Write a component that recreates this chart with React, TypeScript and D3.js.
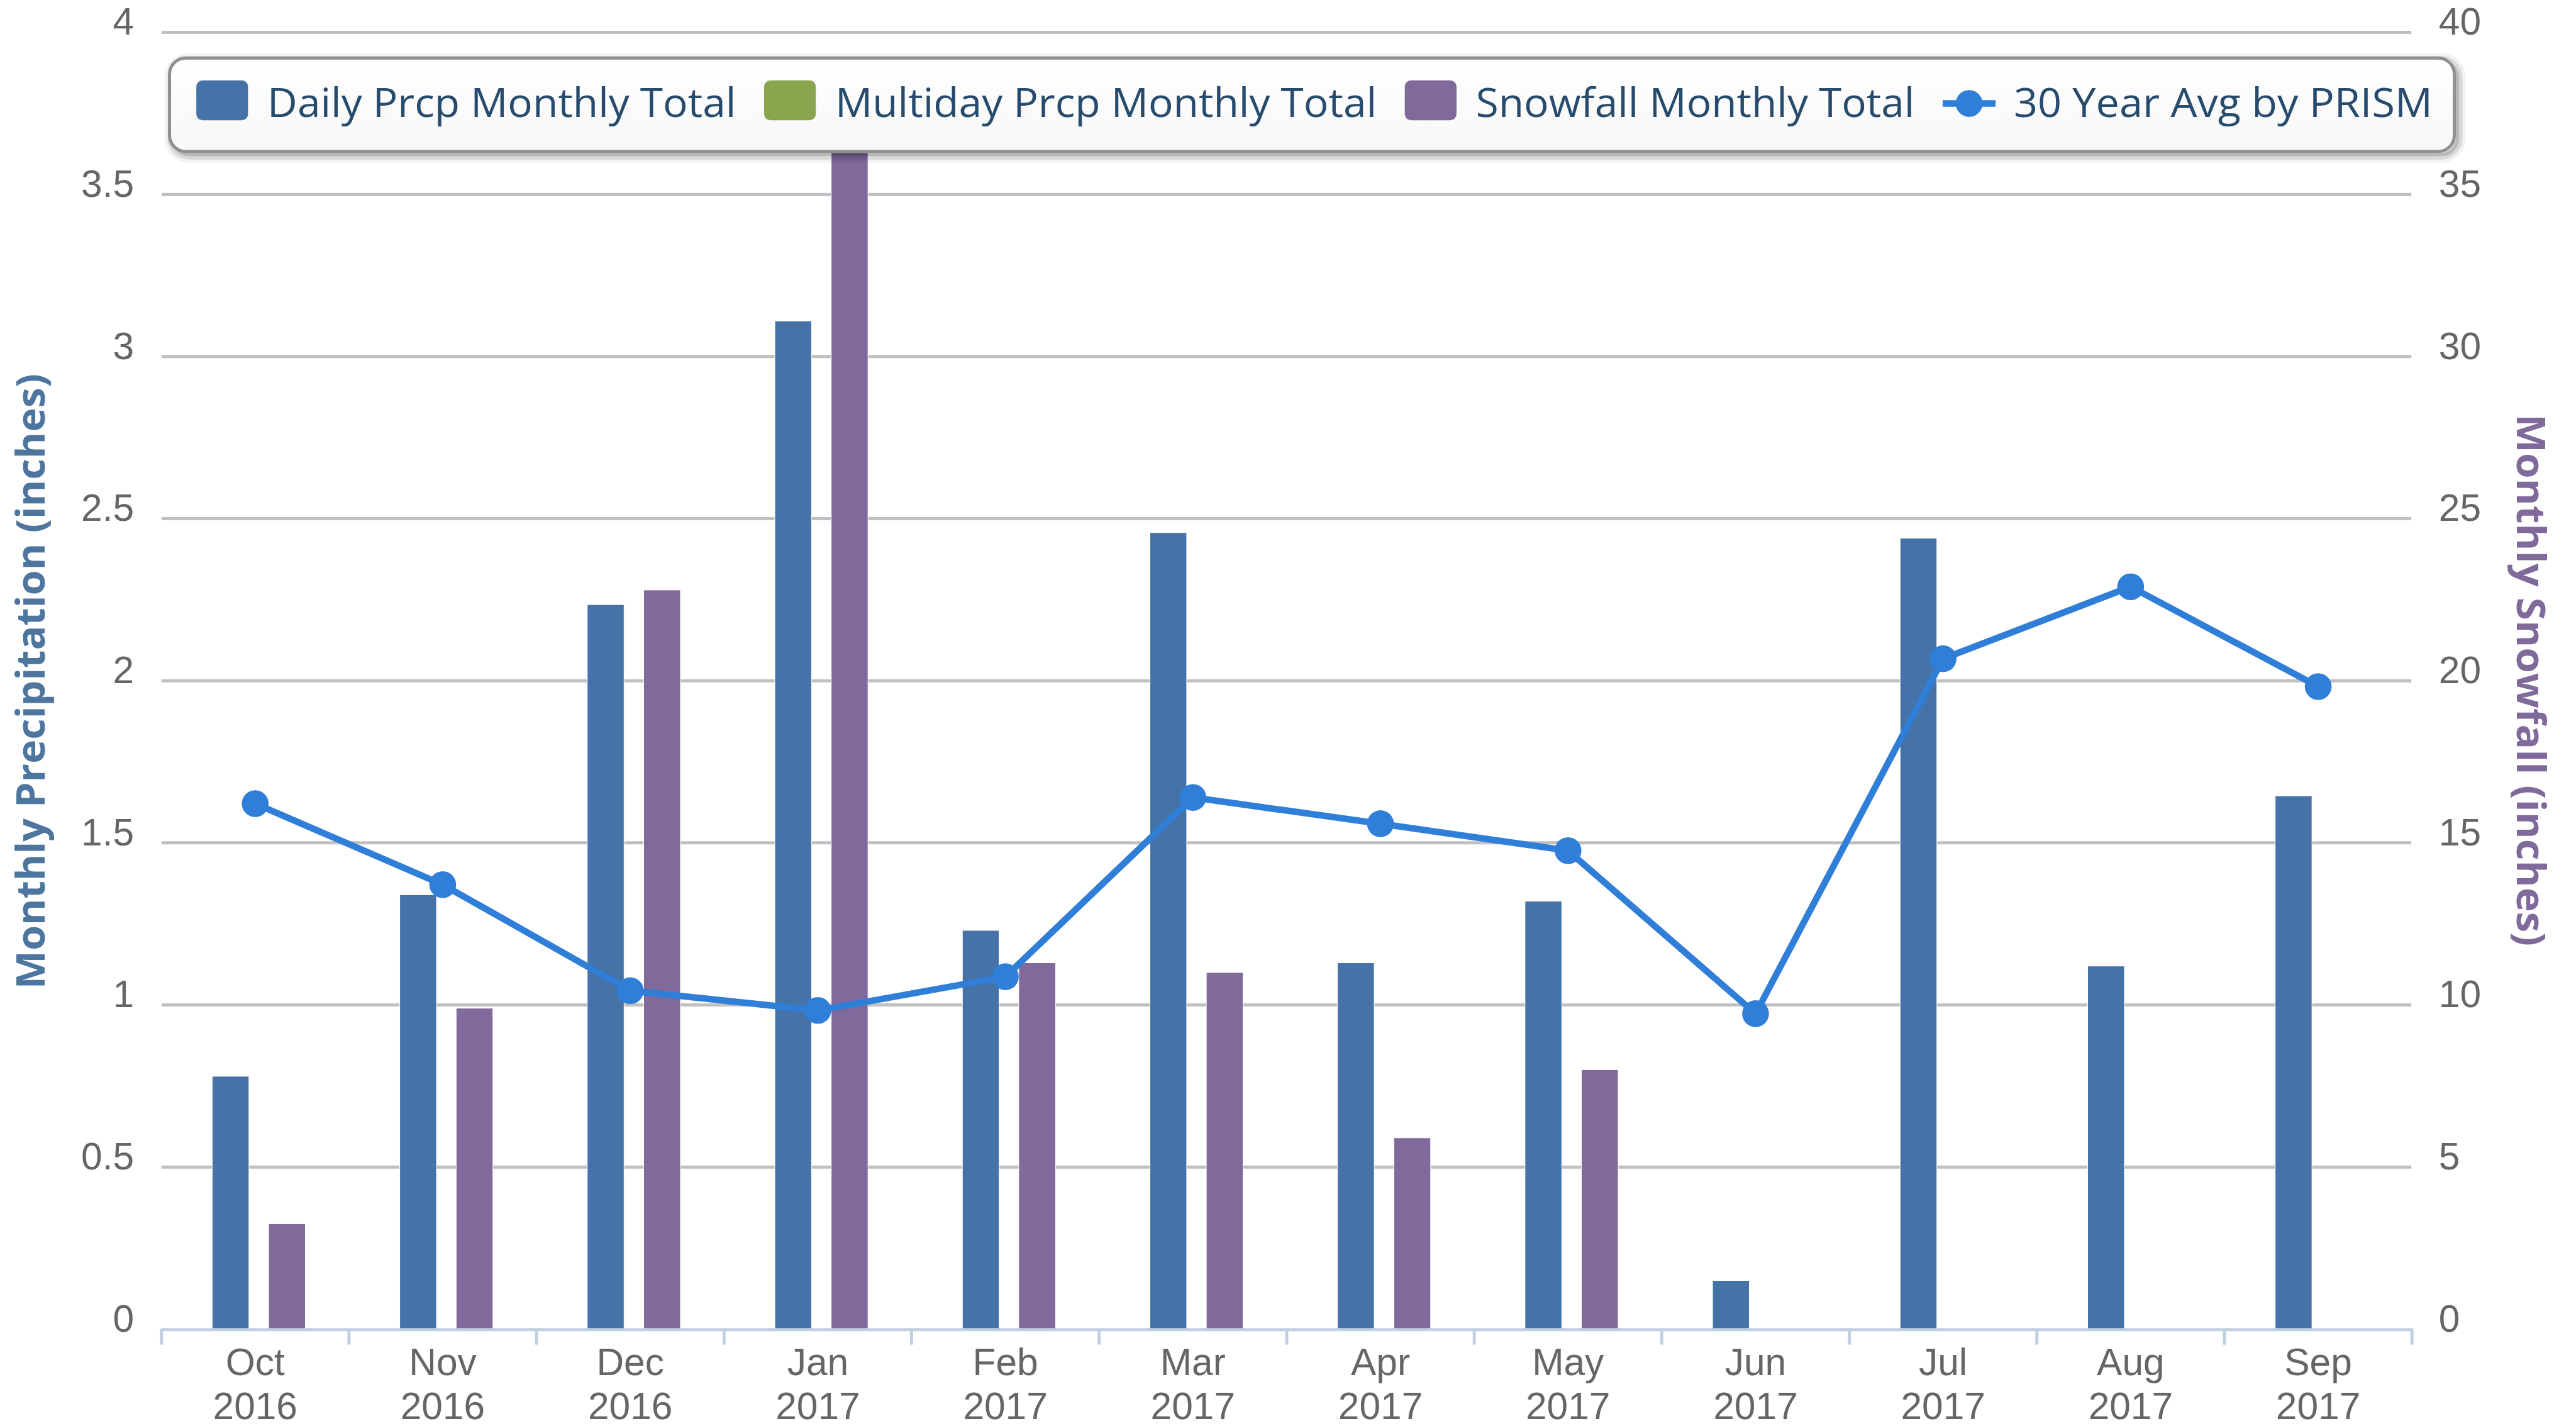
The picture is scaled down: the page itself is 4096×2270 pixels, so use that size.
import React from "react";
import * as d3 from "d3";

const months = ["Oct", "Nov", "Dec", "Jan", "Feb", "Mar", "Apr", "May", "Jun", "Jul", "Aug", "Sep"];
const years = ["2016", "2016", "2016", "2017", "2017", "2017", "2017", "2017", "2017", "2017", "2017", "2017"];

// inches of precipitation (left axis)
const dailyPrcp = [0.78, 1.34, 2.235, 3.11, 1.23, 2.457, 1.13, 1.32, 0.15, 2.44, 1.12, 1.645];
const multidayPrcp: (number | null)[] = [null, null, null, null, null, null, null, null, null, null, null, null];
// inches of snow (right axis)
const snowfall = [3.25, 9.9, 22.8, 37, 11.3, 11.0, 5.9, 8.0, 0, 0, 0, 0];
// 30 year PRISM normal (left axis)
const prismAvg = [1.621, 1.371, 1.044, 0.983, 1.087, 1.64, 1.559, 1.476, 0.973, 2.068, 2.29, 1.982];

const leftTicks = [0, 0.5, 1, 1.5, 2, 2.5, 3, 3.5, 4];
const rightTicks = [0, 5, 10, 15, 20, 25, 30, 35, 40];

const legendItems = [
  { name: "Daily Prcp Monthly Total", color: "#4572A7", kind: "bar", textW: 752 },
  { name: "Multiday Prcp Monthly Total", color: "#89A54E", kind: "bar", textW: 869 },
  { name: "Snowfall Monthly Total", color: "#80699B", kind: "bar", textW: 704 },
  { name: "30 Year Avg by PRISM", color: "#2F7ED8", kind: "line", textW: 672 },
];

const FONT = "'Open Sans', 'DejaVu Sans', sans-serif";
const TICK_FONT = "'Liberation Sans', Arial, sans-serif";

const App = () => {
  const left = 259;
  const right = 3870;
  const top = 52;
  const bottom = 2132;

  const x = d3.scaleBand<string>().domain(months).range([left, right]).padding(0);
  const yLeft = d3.scaleLinear().domain([0, 4]).range([bottom, top]);
  const yRight = d3.scaleLinear().domain([0, 40]).range([bottom, top]);

  const barW = 59;
  const cx = (i: number) => (x(months[i]) as number) + x.bandwidth() / 2;
  const offsets = { daily: -39.5, multi: 6, snow: 51 };

  const line = d3
    .line<number>()
    .x((_, i) => cx(i))
    .y((d) => yLeft(d));

  // legend layout
  let lx = 315;
  const legendPos = legendItems.map((it) => {
    const p = { sym: lx, text: lx + 114 };
    lx = lx + 114 + it.textW + 45;
    return p;
  });

  return (
    <svg
      width={4096}
      height={2270}
      style={{ position: "absolute", left: 0, top: 0, background: "#fff" }}
      fontFamily={FONT}
    >
      <defs>
        <linearGradient id="legbg" x1="0" y1="0" x2="0" y2="1">
          <stop offset="0" stopColor="#ffffff" />
          <stop offset="1" stopColor="#f7f7f7" />
        </linearGradient>
      </defs>
      <g transform="scale(0.991)">
        <rect x={0} y={0} width={4132} height={2290} fill="#fff" />

        {/* grid */}
        {leftTicks.slice(1).map((t) => (
          <line key={"g" + t} x1={left} x2={right - 1} y1={yLeft(t)} y2={yLeft(t)} stroke="#C0C0C0" strokeWidth={5} />
        ))}

        {/* left tick labels */}
        {leftTicks.map((t) => (
          <text key={"l" + t} x={215} y={yLeft(t) + 4} textAnchor="end" fontSize={61} fill="#666" fontFamily={TICK_FONT}>
            {String(t)}
          </text>
        ))}
        {/* right tick labels */}
        {rightTicks.map((t) => (
          <text key={"r" + t} x={3913} y={yRight(t) + 4} textAnchor="start" fontSize={61} fill="#666" fontFamily={TICK_FONT}>
            {String(t)}
          </text>
        ))}

        {/* bars */}
        {dailyPrcp.map((v, i) => (
          <rect
            key={"d" + i}
            x={cx(i) + offsets.daily - barW / 2}
            y={yLeft(v)}
            width={barW}
            height={bottom - yLeft(v)}
            fill="#4572A7"
            stroke="#fff"
            strokeWidth={1}
          />
        ))}
        {multidayPrcp.map((v, i) =>
          v == null ? null : (
            <rect
              key={"m" + i}
              x={cx(i) + offsets.multi - barW / 2}
              y={yLeft(v)}
              width={barW}
              height={bottom - yLeft(v)}
              fill="#89A54E"
            />
          )
        )}
        {snowfall.map((v, i) =>
          v > 0 ? (
            <rect
              key={"s" + i}
              x={cx(i) + offsets.snow - barW / 2}
              y={yRight(v)}
              width={barW}
              height={bottom - yRight(v)}
              fill="#80699B"
              stroke="#fff"
              strokeWidth={1}
            />
          ) : null
        )}

        {/* x axis */}
        <line x1={left} x2={right + 1} y1={bottom + 1} y2={bottom + 1} stroke="#C0D0E0" strokeWidth={5} />
        {d3.range(months.length + 1).map((i) => {
          const tx = left + i * x.bandwidth();
          return <line key={"t" + i} x1={tx} x2={tx} y1={bottom} y2={bottom + 25} stroke="#C0D0E0" strokeWidth={5} />;
        })}
        {months.map((m, i) => (
          <g key={"x" + i}>
            <text x={cx(i)} y={2206} textAnchor="middle" fontSize={61} fill="#666" fontFamily={TICK_FONT}>
              {m}
            </text>
            <text x={cx(i)} y={2276} textAnchor="middle" fontSize={61} fill="#666" fontFamily={TICK_FONT}>
              {years[i]}
            </text>
          </g>
        ))}

        {/* 30 year average line */}
        <path d={line(prismAvg) as string} fill="none" stroke="#2F7ED8" strokeWidth={10.5} strokeLinejoin="round" />
        {prismAvg.map((v, i) => (
          <circle key={"p" + i} cx={cx(i)} cy={yLeft(v)} r={21.5} fill="#2F7ED8" />
        ))}

        {/* axis titles */}
        <text
          transform="translate(72,1093) rotate(-90)"
          textAnchor="middle"
          fontSize={64}
          fontWeight="bold"
          fill="#4d759e"
          textLength={987}
          lengthAdjust="spacingAndGlyphs"
        >
          Monthly Precipitation (inches)
        </text>
        <text
          transform="translate(4038,1091) rotate(90)"
          textAnchor="middle"
          fontSize={64}
          fontWeight="bold"
          fill="#80699B"
          textLength={854}
          lengthAdjust="spacingAndGlyphs"
        >
          Monthly Snowfall (inches)
        </text>

        {/* legend */}
        <g>
          <rect x={277} y={98} width={3666} height={150} rx={26} fill="none" stroke="#000" strokeOpacity={0.05} strokeWidth={26} />
          <rect x={277} y={98} width={3666} height={150} rx={26} fill="none" stroke="#000" strokeOpacity={0.1} strokeWidth={16} />
          <rect x={277} y={98} width={3666} height={150} rx={26} fill="none" stroke="#000" strokeOpacity={0.15} strokeWidth={5} />
          <rect x={272} y={93} width={3666} height={150} rx={26} fill="url(#legbg)" stroke="#909090" strokeWidth={5} />
          {legendItems.map((it, i) => {
            const p = legendPos[i];
            return (
              <g key={"lg" + i}>
                {it.kind === "bar" ? (
                  <rect x={p.sym} y={129} width={83} height={64} rx={10} fill={it.color} />
                ) : (
                  <g>
                    <line x1={p.sym} x2={p.sym + 85} y1={166} y2={166} stroke={it.color} strokeWidth={10.5} />
                    <circle cx={p.sym + 42.5} cy={166} r={21.5} fill={it.color} />
                  </g>
                )}
                <text
                  x={p.text}
                  y={188}
                  fontSize={64}
                  fill="#274b6d"
                  textLength={it.textW}
                  lengthAdjust="spacingAndGlyphs"
                >
                  {it.name}
                </text>
              </g>
            );
          })}
        </g>
      </g>
    </svg>
  );
};

export default App;
